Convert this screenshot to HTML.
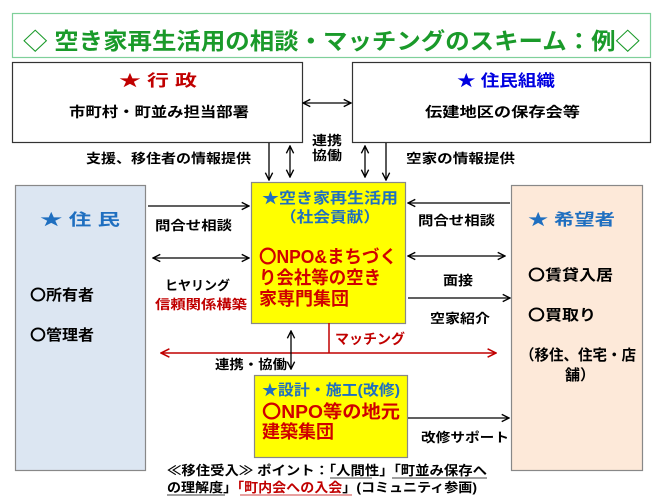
<!DOCTYPE html>
<html><head><meta charset="utf-8"><style>
html,body{margin:0;padding:0;background:#fff;}
svg{display:block;}
text{font-family:"Liberation Sans","Noto Sans CJK JP",sans-serif;font-weight:bold;}
</style></head><body>
<svg width="653" height="496" viewBox="0 0 653 496" xmlns="http://www.w3.org/2000/svg">
<defs>
<marker id="a" viewBox="0 0 10 10" refX="9" refY="5" markerWidth="7" markerHeight="7" orient="auto-start-reverse"><path d="M1,1 L9,5 L1,9" fill="none" stroke="#000" stroke-width="1.5"/></marker>
<marker id="r" viewBox="0 0 10 10" refX="9" refY="5" markerWidth="7" markerHeight="7" orient="auto-start-reverse"><path d="M1,1 L9,5 L1,9" fill="none" stroke="#c00000" stroke-width="1.5"/></marker>
</defs>
<!-- title -->
<rect x="12.5" y="13.5" width="638" height="44" fill="#fff" stroke="#7fd09a" stroke-width="1.2"/>
<text x="23" y="49" font-size="23" fill="#1a9a2a" textLength="617" lengthAdjust="spacingAndGlyphs">◇ 空き家再生活用の相談・マッチングのスキーム：例◇</text>

<!-- top boxes -->
<rect x="12.5" y="62.5" width="290" height="80" fill="#fff" stroke="#333" stroke-width="1.2"/>
<text x="119" y="86" font-size="16" fill="#c00000" textLength="78" lengthAdjust="spacingAndGlyphs">★ 行 政</text>
<text x="69" y="117" font-size="14" fill="#000" textLength="180" lengthAdjust="spacingAndGlyphs">市町村・町並み担当部署</text>
<rect x="352.5" y="62.5" width="298" height="80" fill="#fff" stroke="#333" stroke-width="1.2"/>
<text x="457" y="86" font-size="16" fill="#0000e0" textLength="98" lengthAdjust="spacingAndGlyphs">★ 住民組織</text>
<text x="425" y="117" font-size="14" fill="#000" textLength="155" lengthAdjust="spacingAndGlyphs">伝建地区の保存会等</text>
<line x1="303" y1="103" x2="351" y2="103" stroke="#000" stroke-width="1.3" marker-start="url(#a)" marker-end="url(#a)"/>
<text x="312" y="145" font-size="13" fill="#000" textLength="30" lengthAdjust="spacingAndGlyphs">連携</text>
<text x="312" y="160" font-size="13" fill="#000" textLength="30" lengthAdjust="spacingAndGlyphs">協働</text>
<text x="86" y="163" font-size="13" fill="#000" textLength="165" lengthAdjust="spacingAndGlyphs">支援、移住者の情報提供</text>
<text x="406" y="163" font-size="13" fill="#000" textLength="109" lengthAdjust="spacingAndGlyphs">空家の情報提供</text>
<line x1="269" y1="143" x2="269" y2="180" stroke="#000" stroke-width="1.3" marker-end="url(#a)"/>
<line x1="290" y1="146" x2="290" y2="177" stroke="#000" stroke-width="1.3" marker-start="url(#a)" marker-end="url(#a)"/>
<line x1="365" y1="146" x2="365" y2="177" stroke="#000" stroke-width="1.3" marker-start="url(#a)" marker-end="url(#a)"/>
<line x1="386" y1="143" x2="386" y2="180" stroke="#000" stroke-width="1.3" marker-end="url(#a)"/>

<!-- left box -->
<rect x="15.5" y="185.5" width="130" height="285" fill="#dce6f2" stroke="#888" stroke-width="1.2"/>
<text x="40" y="225" font-size="16" fill="#1f6fc0" textLength="80" lengthAdjust="spacingAndGlyphs">★ 住 民</text>
<text x="30" y="300" font-size="15" fill="#000" font-weight="normal" textLength="64" lengthAdjust="spacingAndGlyphs">〇所有者</text>
<text x="30" y="340" font-size="15" fill="#000" font-weight="normal" textLength="64" lengthAdjust="spacingAndGlyphs">〇管理者</text>

<!-- right box -->
<rect x="511.5" y="185.5" width="131" height="285" fill="#fde9d9" stroke="#888" stroke-width="1.2"/>
<text x="528" y="225" font-size="16" fill="#1f6fc0" textLength="87" lengthAdjust="spacingAndGlyphs">★ 希望者</text>
<text x="528" y="280" font-size="15" fill="#000" textLength="85" lengthAdjust="spacingAndGlyphs">〇賃貸入居</text>
<text x="528" y="320" font-size="15" fill="#000" textLength="68" lengthAdjust="spacingAndGlyphs">〇買取り</text>
<text x="520" y="360" font-size="15" fill="#000" textLength="116" lengthAdjust="spacingAndGlyphs">（移住、住宅・店</text>
<text x="565" y="380" font-size="15" fill="#000" textLength="30" lengthAdjust="spacingAndGlyphs">舗）</text>

<!-- central yellow box -->
<rect x="251.5" y="182.5" width="154" height="141" fill="#ffff00" stroke="#888" stroke-width="1.2"/>
<text x="262" y="203" font-size="15" fill="#1f6fc0" textLength="136" lengthAdjust="spacingAndGlyphs">★空き家再生活用</text>
<text x="280" y="222" font-size="15" fill="#1f6fc0" textLength="100" lengthAdjust="spacingAndGlyphs">（社会貢献）</text>
<text x="259" y="263" font-size="18" fill="#d00000" font-weight="normal" textLength="138" lengthAdjust="spacingAndGlyphs">〇NPO&amp;まちづく</text>
<text x="259" y="284" font-size="18" fill="#d00000" font-weight="normal" textLength="122" lengthAdjust="spacingAndGlyphs">り会社等の空き</text>
<text x="259" y="305" font-size="18" fill="#d00000" font-weight="normal" textLength="90" lengthAdjust="spacingAndGlyphs">家専門集団</text>

<!-- left arrows -->
<line x1="148" y1="206" x2="249" y2="206" stroke="#000" stroke-width="1.3" marker-end="url(#a)"/>
<text x="155" y="230" font-size="13" fill="#000" font-weight="normal" textLength="77" lengthAdjust="spacingAndGlyphs">問合せ相談</text>
<line x1="153" y1="258" x2="249" y2="258" stroke="#000" stroke-width="1.3" marker-start="url(#a)" marker-end="url(#a)"/>
<text x="165" y="290" font-size="13" fill="#000" font-weight="normal" textLength="65" lengthAdjust="spacingAndGlyphs">ヒヤリング</text>
<text x="155" y="309" font-size="13" fill="#c00000" textLength="92" lengthAdjust="spacingAndGlyphs">信頼関係構築</text>

<!-- right arrows -->
<line x1="510" y1="203" x2="408" y2="203" stroke="#000" stroke-width="1.3" marker-end="url(#a)"/>
<text x="418" y="225" font-size="13" fill="#000" font-weight="normal" textLength="77" lengthAdjust="spacingAndGlyphs">問合せ相談</text>
<line x1="408" y1="256" x2="505" y2="256" stroke="#000" stroke-width="1.3" marker-start="url(#a)" marker-end="url(#a)"/>
<text x="443" y="285" font-size="13" fill="#000" textLength="30" lengthAdjust="spacingAndGlyphs">面接</text>
<line x1="408" y1="298" x2="510" y2="298" stroke="#000" stroke-width="1.3" marker-end="url(#a)"/>
<text x="430" y="323" font-size="13" fill="#000" textLength="60" lengthAdjust="spacingAndGlyphs">空家紹介</text>

<!-- matching -->
<line x1="329" y1="323" x2="329" y2="353" stroke="#c00000" stroke-width="1.5"/>
<line x1="161" y1="353" x2="496" y2="353" stroke="#c00000" stroke-width="1.5" marker-start="url(#r)" marker-end="url(#r)"/>
<text x="335" y="344" font-size="14" fill="#c00000" textLength="70" lengthAdjust="spacingAndGlyphs">マッチング</text>
<line x1="291" y1="331" x2="291" y2="369" stroke="#000" stroke-width="1.3" marker-start="url(#a)" marker-end="url(#a)"/>
<text x="215" y="369" font-size="13" fill="#000" textLength="72" lengthAdjust="spacingAndGlyphs">連携・協働</text>

<!-- bottom yellow box -->
<rect x="254.5" y="375.5" width="153" height="82" fill="#ffff00" stroke="#888" stroke-width="1.2"/>
<text x="262" y="395" font-size="15" fill="#1f6fc0" textLength="138" lengthAdjust="spacingAndGlyphs">★設計・施工(改修)</text>
<text x="262" y="418" font-size="18" fill="#d00000" font-weight="normal" textLength="138" lengthAdjust="spacingAndGlyphs">〇NPO等の地元</text>
<text x="262" y="438" font-size="18" fill="#d00000" font-weight="normal" textLength="72" lengthAdjust="spacingAndGlyphs">建築集団</text>
<line x1="408" y1="418" x2="509" y2="418" stroke="#000" stroke-width="1.3" marker-end="url(#a)"/>
<text x="421" y="442" font-size="13" fill="#000" textLength="88" lengthAdjust="spacingAndGlyphs">改修サポート</text>

<!-- footer -->
<text x="167" y="475" font-size="13" fill="#000" textLength="320" lengthAdjust="spacingAndGlyphs">≪移住受入≫ ポイント：「人間性」「町並み保存へ</text>
<text x="167" y="492" font-size="13" fill="#000" textLength="310" lengthAdjust="spacingAndGlyphs">の理解度」<tspan fill="#c00000">「町内会への入会</tspan>」(コミュニティ参画)</text>
<line x1="330" y1="478" x2="372" y2="478" stroke="#000" stroke-width="0.8"/>
<line x1="392" y1="478" x2="487" y2="478" stroke="#000" stroke-width="0.8"/>
<line x1="167" y1="495" x2="225" y2="495" stroke="#000" stroke-width="0.8"/>
<line x1="240" y1="495" x2="352" y2="495" stroke="#c00000" stroke-width="0.8"/>
</svg>
</body></html>
